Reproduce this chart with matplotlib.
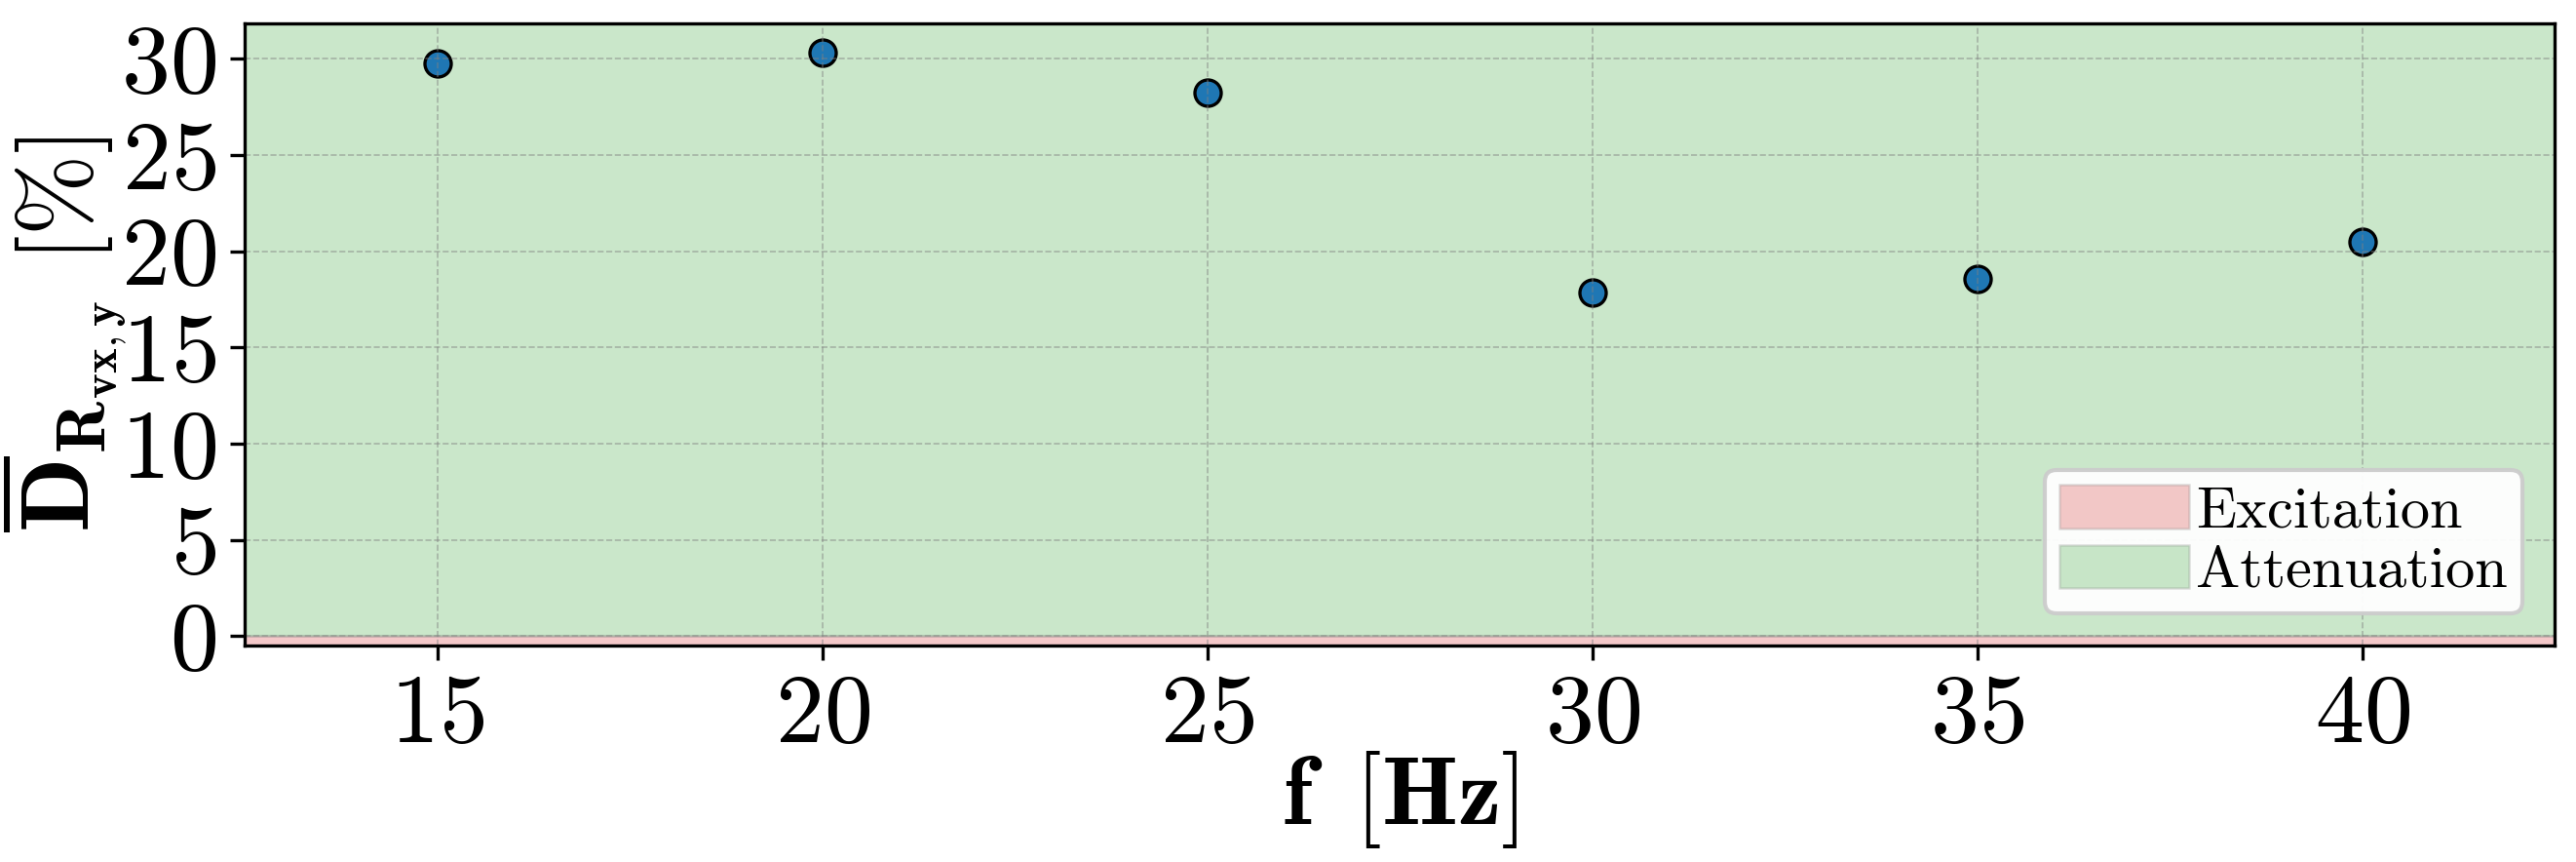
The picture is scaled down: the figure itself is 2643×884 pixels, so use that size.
import matplotlib
matplotlib.use("Agg")
import matplotlib.pyplot as plt

# Data
freq = [15, 20, 25, 30, 35, 40]
d_mean = [29.76, 30.33, 28.24, 17.86, 18.55, 20.5]
x_ticks = [15, 20, 25, 30, 35, 40]
y_ticks = [0, 5, 10, 15, 20, 25, 30]

plt.rcParams["font.family"] = "serif"
plt.rcParams["font.serif"] = ["cmr10"]
plt.rcParams["mathtext.fontset"] = "cm"
plt.rcParams["axes.formatter.use_mathtext"] = True

fig, ax = plt.subplots(figsize=(2643 / 300, 884 / 300), dpi=300)
fig.subplots_adjust(left=0.095, right=0.9917, top=0.973, bottom=0.251)

y_low = -0.5
y_high = max(d_mean) * 1.05

# Regions
ax.axhspan(y_low, 0, facecolor="tab:red", edgecolor="gray", linewidth=0.6,
           alpha=0.25, label="Excitation")
ax.axhspan(0, y_high, facecolor="tab:green", edgecolor="gray", linewidth=0.6,
           alpha=0.25, label="Attenuation")

ax.scatter(freq, d_mean, s=42, color="tab:blue", edgecolor="black", linewidth=0.8)

ax.set_xlim(12.5, 42.5)
ax.set_ylim(y_low, y_high)
ax.set_xticks(x_ticks)
ax.set_yticks(y_ticks)
ax.tick_params(labelsize=24)

ax.grid(True, linestyle="--", linewidth=0.4, color="gray", alpha=0.5)

ax.set_xlabel(r"$\mathbf{f}\ \,[\mathbf{Hz}]$", fontsize=24)
ax.set_ylabel(r"$\overline{\mathbf{D}}_{\mathbf{R_{vx,y}}}\ [\%]$", fontsize=24)
ax.xaxis.set_label_coords(0.5, -0.166)
ax.yaxis.set_label_coords(-0.05, 0.5)

ax.legend(loc="lower right", fontsize=14.5, handlelength=2.2, handleheight=0.75,
          borderpad=0.25, labelspacing=0.1, handletextpad=0.12,
          borderaxespad=0.55, framealpha=0.95)

fig.savefig("out.png", dpi=300)
